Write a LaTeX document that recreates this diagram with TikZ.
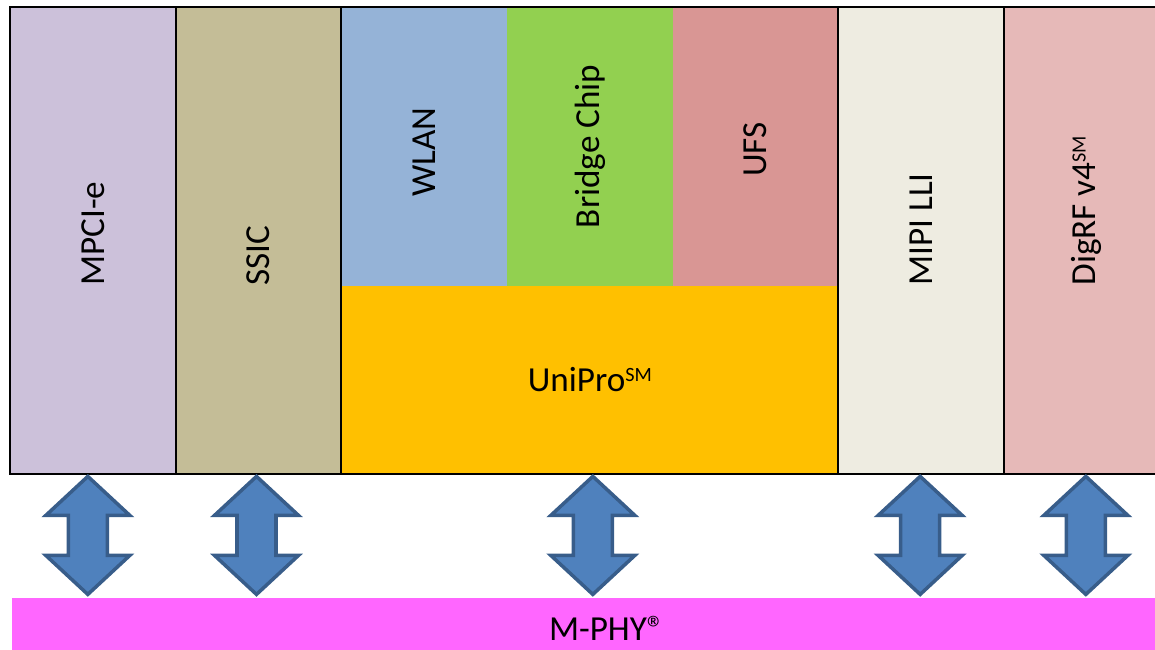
\documentclass[tikz,border=0pt]{standalone}
\usepackage{fontspec}
\setmainfont{Carlito}
\usetikzlibrary{positioning}

\definecolor{mpcicol}{HTML}{CCC1DA}
\definecolor{ssiccol}{HTML}{C4BD97}
\definecolor{wlancol}{HTML}{95B3D7}
\definecolor{bridgecol}{HTML}{92D050}
\definecolor{ufscol}{HTML}{D99694}
\definecolor{uniprocol}{HTML}{FFC000}
\definecolor{mipicol}{HTML}{EEECE1}
\definecolor{digrfcol}{HTML}{E6B9B8}
\definecolor{mphycol}{HTML}{FF66FF}
\definecolor{arrowfill}{HTML}{4F81BD}
\definecolor{arrowline}{HTML}{385D8A}

\newcommand{\smark}{\raisebox{5.8pt}{\fontsize{11.5}{13}\selectfont SM}}

\tikzset{
	label font/.style={font=\fontsize{20}{24}\selectfont},
	block/.style={draw=black, line width=1.2pt, inner sep=0pt, outer sep=0pt,
		minimum width=3.314cm, minimum height=9.34cm, anchor=north west},
	cell/.style={inner sep=0pt, outer sep=0pt,
		minimum width=3.314cm, minimum height=5.58cm, anchor=north west},
	vtext/.style={label font, rotate=90, inner sep=0pt},
	updown/.style={fill=arrowfill, draw=arrowline, line width=2pt, line join=miter},
}

\begin{document}
\begin{tikzpicture}[x=0.02cm, y=0.02cm]
	\useasboundingbox (0,0) rectangle (1155,649);
	\clip (0,0) rectangle (1155,649);
	% protocol blocks
	\node[block, fill=mpcicol] (mpci) at (10,642) {};
	\node[block, fill=ssiccol, right=0pt of mpci] (ssic) {};
	\node[cell, fill=wlancol] (wlan) at (ssic.north east) {};
	\node[cell, fill=bridgecol, right=0pt of wlan] (bridge) {};
	\node[cell, fill=ufscol, right=0pt of bridge] (ufs) {};
	\node[label font, fill=uniprocol, inner sep=0pt, outer sep=0pt,
		minimum width=9.942cm, minimum height=3.76cm, below=0pt of bridge] (unipro) {UniPro\smark};
	\draw[line width=1.2pt] (wlan.north west) rectangle (unipro.south east);
	\node[block, fill=mipicol] (mipi) at (ufs.north east) {};
	\node[block, fill=digrfcol, right=0pt of mipi] (digrf) {};
	% labels
	\node[vtext, anchor=west] (mpcitext) at (mpci.center |- unipro.north) {MPCI-e};
	\node[vtext, anchor=west] (ssictext) at (ssic.center |- unipro.north) {SSIC};
	\node[vtext] (wlantext) at ([yshift=-0.12cm]wlan.center) {WLAN};
	\node[vtext] (bridgetext) at (bridge) {Bridge Chip};
	\node[vtext] (ufstext) at ([yshift=-0.06cm]ufs.center) {UFS};
	\node[vtext, anchor=west] (mipitext) at (mipi.center |- unipro.north) {MIPI LLI};
	\node[vtext, anchor=west] (digrftext) at (digrf.center |- unipro.north) {DigRF v4\smark};
	% physical layer
	\node[label font, fill=mphycol, inner sep=0pt, outer sep=0pt,
		minimum width=23.8cm, minimum height=1.22cm, anchor=north west] (mphy) at (12,51) {M-PHY®};
	% up/down arrows
	\foreach \b/\dx in {mpci/-5, ssic/-2, unipro/3, mipi/-1, digrf/-1}
		\draw[updown] ([xshift=\dx*0.02cm, yshift=-0.05cm]\b.south) -- ++(42,-39) -- ++(-22.5,0)
			-- ++(0,-40) -- ++(22.5,0) -- ++(-42,-39) -- ++(-42,39) -- ++(22.5,0)
			-- ++(0,40) -- ++(-22.5,0) -- cycle;
\end{tikzpicture}
\end{document}
